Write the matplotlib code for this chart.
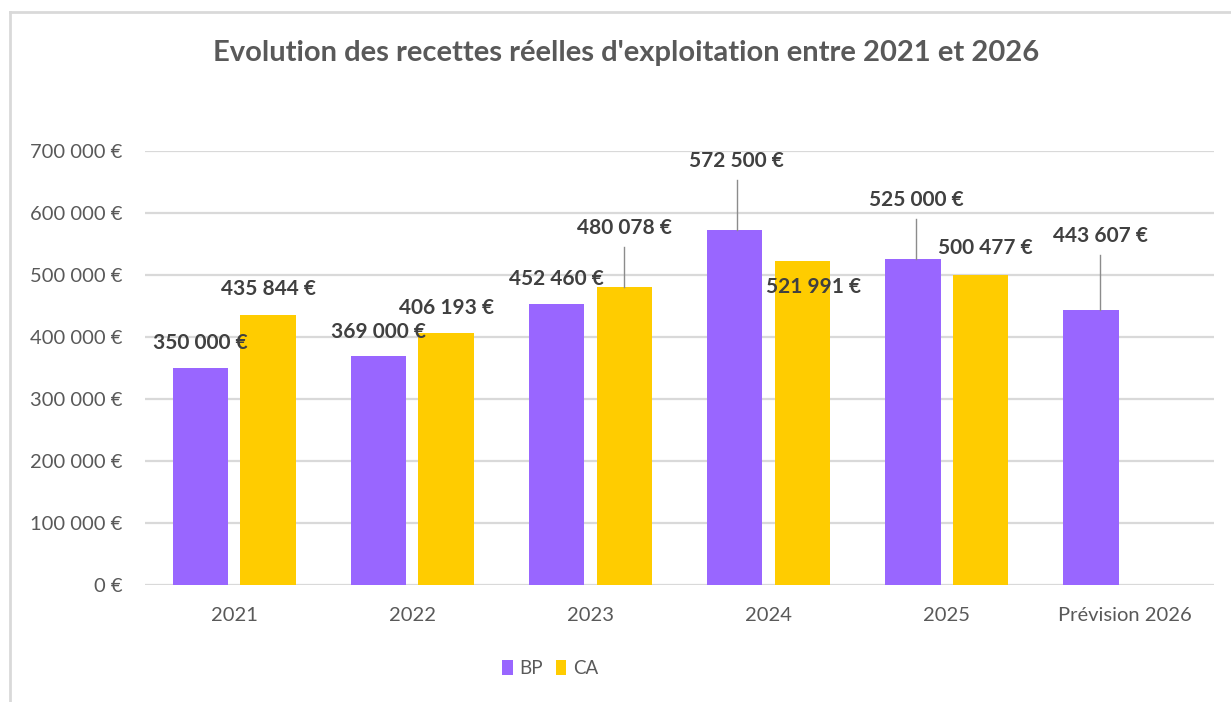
import matplotlib.pyplot as plt
import numpy as np

plt.rcParams['font.family'] = ['Lato', 'DejaVu Sans']

# donnees
categories = ['2021', '2022', '2023', '2024', '2025', 'Prévision 2026']
bp = [350000, 369000, 452460, 572500, 525000, 443607]
ca = [435844, 406193, 480078, 521991, 500477, np.nan]
yticks = [0, 100000, 200000, 300000, 400000, 500000, 600000, 700000]

# position des etiquettes (decalage x en categorie, y du texte en euros, trait de rappel)
bp_lab = [(-0.19, 391000, False), (-0.19, 408700, False), (-0.19, 494300, False),
          (-0.18, 683400, True), (-0.17, 620400, True), (-0.14, 562200, True)]
ca_lab = [(0.19, 478200, False), (0.19, 447500, False), (0.19, 575100, True),
          (0.254, 481400, False), (0.219, 542800, False)]


def euro(v):
    return '{:,.0f}'.format(v).replace(',', ' ') + ' €'


purple = '#9966FF'
yellow = '#FFCC00'
grid = '#D9D9D9'
txt = '#595959'
lab = '#404040'

fig = plt.figure(figsize=(12.31, 7.02), dpi=100)
ax = fig.add_axes([0.1178, 0.1667, 0.8684, 0.6182])

x = np.arange(len(categories))
w = 0.31
off = 0.19
ax.bar(x - off, bp, w, color=purple, label='BP', zorder=3)
ax.bar(x + off, ca, w, color=yellow, label='CA', zorder=3)

ax.set_xlim(-0.5, len(categories) - 0.5)
ax.set_ylim(0, 700000)
ax.set_yticks(yticks)
ax.set_yticklabels([euro(v) for v in yticks])
ax.set_xticks(x)
ax.set_xticklabels(categories)
ax.tick_params(axis='both', length=0, labelsize=14.5, labelcolor=txt)
ax.tick_params(axis='y', pad=16)
ax.tick_params(axis='x', pad=16)
ax.yaxis.grid(True, color=grid, linewidth=1.6, zorder=0)
for s in ax.spines.values():
    s.set_visible(False)


def put(i, val, p):
    dx, ty, leader = p
    if leader:
        ax.plot([i + dx, i + dx], [ty - 30000, val], color='#8C8C8C', lw=1.0, zorder=4)
    ax.text(i + dx, ty, euro(val), ha='center', va='center', fontsize=15,
            fontweight='bold', color=lab, zorder=5)


for i in range(len(categories)):
    put(i, bp[i], bp_lab[i])
    if not np.isnan(ca[i]):
        put(i, ca[i], ca_lab[i])

fig.text(0.509, 0.924, "Evolution des recettes réelles d'exploitation entre 2021 et 2026",
         ha='center', va='center', fontsize=21, fontweight='bold', color=txt)

leg = fig.legend(loc='center', bbox_to_anchor=(0.447, 0.048), ncol=2, frameon=False,
                 fontsize=13.5, handlelength=0.55, handleheight=0.9, handletextpad=0.35,
                 columnspacing=0.7)
for t in leg.get_texts():
    t.set_color(txt)

# cadre du graphique
fig.add_artist(plt.Line2D([10 / 1231, 10 / 1231], [0, 1 - 12 / 702], transform=fig.transFigure,
                          color=grid, lw=2))
fig.add_artist(plt.Line2D([10 / 1231, 1], [1 - 12 / 702, 1 - 12 / 702], transform=fig.transFigure,
                          color=grid, lw=2))

fig.savefig('out.png', dpi=100)
